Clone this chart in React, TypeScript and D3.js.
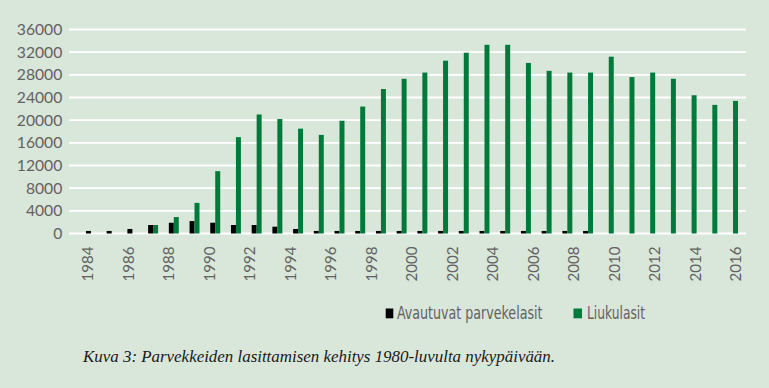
import React, { useEffect } from "react";
import * as d3 from "d3";

// Data
const years: string[] = [
  "1984", "1985", "1986", "1987", "1988", "1989", "1990", "1991",
  "1992", "1993", "1994", "1995", "1996", "1997", "1998", "1999",
  "2000", "2001", "2002", "2003", "2004", "2005", "2006", "2007",
  "2008", "2009", "2010", "2011", "2012", "2013", "2014", "2015",
];
const avautuvat: number[] = [
  450, 450, 800, 1500, 1900, 2200, 1900, 1500,
  1500, 1200, 800, 450, 450, 450, 450, 450,
  450, 450, 450, 450, 450, 450, 450, 450,
  450, 0, 0, 0, 0, 0, 0, 0,
];
const liukulasit: number[] = [
  0, 0, 0, 1500, 2900, 5400, 11000, 17000,
  21000, 20200, 18500, 17400, 19900, 22400, 25500, 27300,
  28400, 30500, 31900, 33300, 33300, 30100, 28700, 28400,
  28400, 31200, 27600, 28400, 27300, 24400, 22700, 23400,
];
const yTicks: number[] = [0, 4000, 8000, 12000, 16000, 20000, 24000, 28000, 32000, 36000];
const xTickLabels: string[] = [
  "1984", "1986", "1988", "1990", "1992", "1994", "1996", "1998", "2000",
  "2002", "2004", "2006", "2008", "2010", "2012", "2014", "2016",
];
const seriesNames: string[] = ["Avautuvat parvekelasit", "Liukulasit"];
const seriesColors: string[] = ["#000000", "#007a3b"];
const caption = "Kuva 3: Parvekkeiden lasittamisen kehitys 1980-luvulta nykypäivään.";

const W = 769;
const H = 388;
const BG = "#d9e6da";
const TEXT = "#626262";
const AXIS_FONT = "Lato, 'Open Sans', sans-serif";

export default function App() {
  useEffect(() => {
    document.body.style.margin = "0";
    document.body.style.background = BG;
  }, []);

  const y = d3.scaleLinear().domain([0, 36000]).range([233.5, 29.5]);
  const x = d3
    .scaleBand<string>()
    .domain(years)
    .range([80.6, 743.4])
    .paddingInner(0.52)
    .paddingOuter(0.26);
  const xs = d3
    .scaleBand<string>()
    .domain(["a", "l"])
    .range([0, x.bandwidth()])
    .padding(0);
  const xl = d3.scalePoint<string>().domain(xTickLabels).range([88, 736]);

  const series = [avautuvat, liukulasit];
  const keys = ["a", "l"];

  return (
    <svg
      width={W}
      height={H}
      viewBox={`0 0 ${W} ${H}`}
      style={{ position: "absolute", left: 0, top: 0, display: "block" }}
    >
      <rect x={0} y={0} width={W} height={H} fill={BG} />
      {/* gridlines */}
      {yTicks.map((t) => (
        <line
          key={"g" + t}
          x1={69}
          x2={746}
          y1={y(t)}
          y2={y(t)}
          stroke="#ffffff"
          strokeWidth={1.8}
        />
      ))}
      {/* y tick labels */}
      {yTicks.map((t) => (
        <text
          key={"yl" + t}
          x={62.3}
          y={y(t)}
          dy="0.36em"
          textAnchor="end"
          fontFamily={AXIS_FONT}
          fontSize={15.7}
          fill={TEXT}
        >
          {t}
        </text>
      ))}
      {/* bars */}
      {series.map((vals, si) =>
        years.map((yr, i) =>
          vals[i] > 0 ? (
            <rect
              key={si + "-" + yr}
              x={(x(yr) as number) + (xs(keys[si]) as number)}
              y={y(vals[i])}
              width={xs.bandwidth()}
              height={y(0) - y(vals[i])}
              fill={seriesColors[si]}
            />
          ) : null
        )
      )}
      {/* x tick labels */}
      {xTickLabels.map((lbl) => (
        <text
          key={"xl" + lbl}
          transform={`translate(${xl(lbl)},246.5) rotate(-90)`}
          dy="0.36em"
          textAnchor="end"
          fontFamily={AXIS_FONT}
          fontSize={15.1}
          fill={TEXT}
        >
          {lbl}
        </text>
      ))}
      {/* legend */}
      <rect x={385.7} y={308.5} width={7.6} height={9.8} fill={seriesColors[0]} />
      <text
        x={397}
        y={319}
        fontFamily="'Liberation Sans Narrow', 'DejaVu Sans Condensed', sans-serif"
        fontSize={17.5}
        fill={TEXT}
        textLength={145.5}
        lengthAdjust="spacingAndGlyphs"
      >
        {seriesNames[0]}
      </text>
      <rect x={573.5} y={308.5} width={8.5} height={9.8} fill={seriesColors[1]} />
      <text
        x={587}
        y={319}
        fontFamily="'Liberation Sans Narrow', 'DejaVu Sans Condensed', sans-serif"
        fontSize={17.5}
        fill={TEXT}
        textLength={58}
        lengthAdjust="spacingAndGlyphs"
      >
        {seriesNames[1]}
      </text>
      {/* caption */}
      <text
        x={83}
        y={362}
        fontFamily="'Liberation Serif', 'DejaVu Serif', serif"
        fontStyle="italic"
        fontSize={16.5}
        fill="#1a1a1a"
        textLength={472}
        lengthAdjust="spacingAndGlyphs"
      >
        {caption}
      </text>
    </svg>
  );
}
